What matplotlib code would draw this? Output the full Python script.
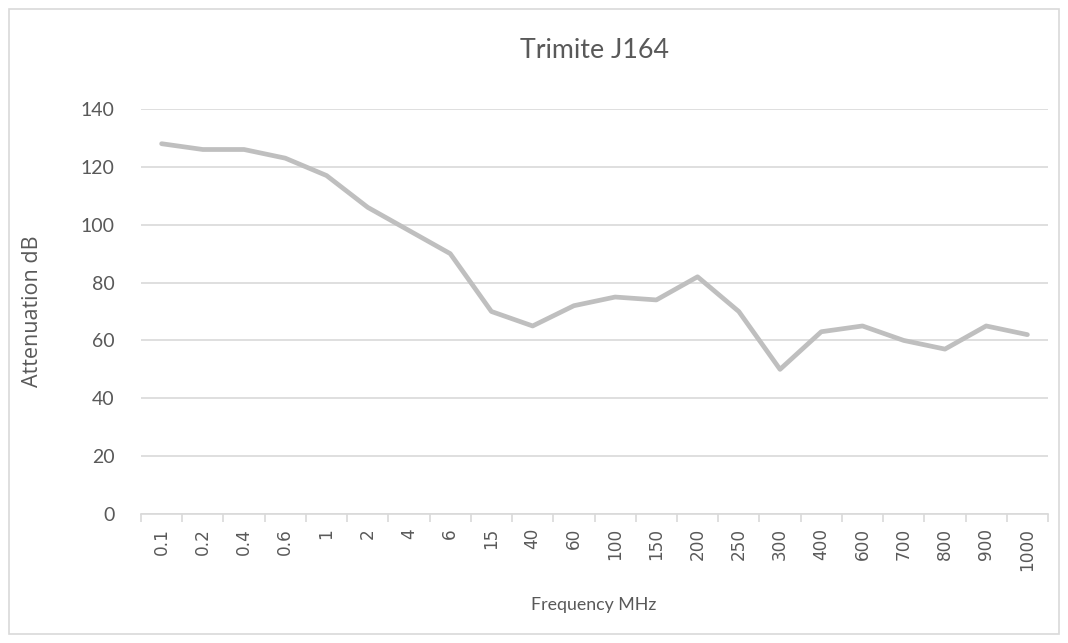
import matplotlib
matplotlib.use("Agg")
import matplotlib.pyplot as plt
from matplotlib.patches import Rectangle
from matplotlib.ticker import FixedLocator, NullFormatter

categories = ["0.1", "0.2", "0.4", "0.6", "1", "2", "4", "6", "15", "40", "60",
              "100", "150", "200", "250", "300", "400", "600", "700", "800", "900", "1000"]
attenuation = [128, 126, 126, 123, 117, 106, 98, 90, 70, 65, 72,
               75, 74, 82, 70, 50, 63, 65, 60, 57, 65, 62]
yticks = [0, 20, 40, 60, 80, 100, 120, 140]

plt.rcParams['font.family'] = ['Lato', 'DejaVu Sans']
text_c = '#595959'
grid_c = '#D9D9D9'
W, H = 1068, 643

fig = plt.figure(figsize=(W / 100, H / 100), dpi=100)
ax = fig.add_axes([141 / W, 1 - 514 / H, (1048 - 141) / W, (514 - 109) / H])

x = list(range(len(categories)))
ax.plot(x, attenuation, color='#BFBFBF', lw=3.4, solid_capstyle='round',
        solid_joinstyle='round', zorder=3)

ax.set_xlim(-0.5, len(categories) - 0.5)
ax.set_ylim(0, 140)
ax.set_yticks(yticks)
ax.set_yticklabels([str(v) for v in yticks])
ax.yaxis.grid(True, color=grid_c, lw=1.2)
ax.set_axisbelow(True)

ax.set_xticks(x)
ax.set_xticklabels(categories, rotation=90, family='DejaVu Sans')
ax.tick_params(axis='x', which='major', length=0, pad=10, labelsize=12.2, labelcolor=text_c)
ax.xaxis.set_minor_locator(FixedLocator([i - 0.5 for i in range(len(categories) + 1)]))
ax.xaxis.set_minor_formatter(NullFormatter())
ax.tick_params(axis='x', which='minor', length=6, color=grid_c, width=1.2)
ax.tick_params(axis='y', length=0, pad=19, labelsize=14, labelcolor=text_c)

for s in ['top', 'right', 'left']:
    ax.spines[s].set_visible(False)
ax.spines['bottom'].set_color(grid_c)
ax.spines['bottom'].set_linewidth(1.2)

fig.text(595 / W, 1 - 50 / H, 'Trimite J164', ha='center', va='center', fontsize=19.3, color=text_c)
fig.text(594 / W, 1 - 605 / H, 'Frequency MHz', ha='center', va='center', fontsize=12.8, color=text_c)
fig.text(33 / W, 1 - 311 / H, 'Attenuation dB', ha='center', va='center', rotation=90,
         fontsize=15.5, color=text_c, family=['Open Sans', 'DejaVu Sans'])

fig.patches.append(Rectangle((9 / W, 9 / H), (1059 - 9) / W, (634 - 9) / H,
                             transform=fig.transFigure, fill=False, edgecolor=grid_c, lw=1.2))

fig.savefig('out.png', dpi=100, facecolor='white')
